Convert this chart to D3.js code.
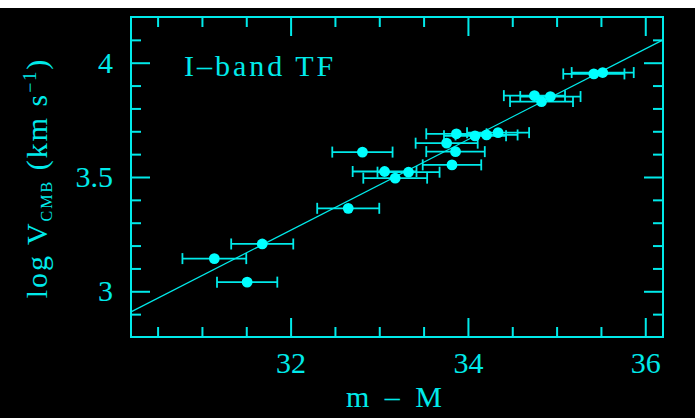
<!DOCTYPE html>
<html>
<head>
<meta charset="utf-8">
<script src="https://cdn.jsdelivr.net/npm/d3@7"></script>
<style>
  html, body { margin: 0; padding: 0; background: #000; }
  svg { display: block; }
</style>
</head>
<body>
<div class="chart"></div>
<script>
// Galaxy data: distance modulus, log velocity, half-width of error bar
var distMod = [31.14, 31.51, 31.68, 32.65, 32.81, 33.06, 33.18, 33.33, 33.76, 33.86,
               33.82, 33.87, 34.08, 34.21, 34.34, 34.75, 34.83, 34.93, 35.42, 35.52];
var logV = [3.143, 3.040, 3.207, 3.363, 3.609, 3.524, 3.495, 3.521, 3.648, 3.611,
            3.553, 3.689, 3.680, 3.684, 3.694, 3.856, 3.830, 3.852, 3.951, 3.957];
var distErr = [0.36, 0.34, 0.35, 0.35, 0.34, 0.36, 0.36, 0.35, 0.35, 0.33,
               0.33, 0.34, 0.35, 0.35, 0.35, 0.345, 0.355, 0.34, 0.345, 0.35];

// Fit line end points
var fitX = [30.2, 36.2];
var fitY = [2.91, 4.10];

// Ticks
var xMajor = [32, 34, 36];
var xMinor = [30.5, 31, 31.5, 32.5, 33, 33.5, 34.5, 35, 35.5];
var yMajor = [3, 3.5, 4];
var yMinor = [2.9, 3.1, 3.2, 3.3, 3.4, 3.6, 3.7, 3.8, 3.9, 4.1];

var svgWidth = 695;
var svgHeight = 418;
var margin = { top: 17, right: 32, bottom: 81, left: 131 };
var width = svgWidth - margin.left - margin.right;
var height = svgHeight - margin.top - margin.bottom;

var cyan = "#00eaea";
var font = "'Liberation Serif', 'Times New Roman', serif";

var svg = d3.select(".chart")
    .append("svg")
    .attr("width", svgWidth)
    .attr("height", svgHeight);

svg.append("rect")
    .attr("width", svgWidth)
    .attr("height", svgHeight)
    .attr("fill", "#000");

// white strip along the top of the screenshot
svg.append("rect")
    .attr("width", svgWidth)
    .attr("height", 8)
    .attr("fill", "#fff");

var chart = svg.append("g")
    .attr("transform", "translate(" + margin.left + "," + margin.top + ")");

var x = d3.scaleLinear().domain([30.2, 36.2]).range([0, width]);
var y = d3.scaleLinear().domain([2.8, 4.2]).range([height, 0]);

// axes: major ticks labelled on bottom/left, all ticks inward on every side
function styleAxis(g) {
    g.select(".domain").remove();
    g.selectAll("line").attr("stroke", cyan).attr("stroke-width", 2);
    g.selectAll("text").attr("fill", cyan);
    g.attr("font-family", font).attr("font-size", 30);
}

chart.append("g")
    .attr("transform", "translate(0," + height + ")")
    .call(d3.axisBottom(x).tickValues(xMajor).tickFormat(d3.format("d"))
        .tickSizeInner(-19).tickSizeOuter(0).tickPadding(15))
    .call(styleAxis);
chart.append("g")
    .attr("transform", "translate(0," + height + ")")
    .call(d3.axisBottom(x).tickValues(xMinor).tickFormat("")
        .tickSizeInner(-10).tickSizeOuter(0))
    .call(styleAxis);
chart.append("g")
    .call(d3.axisTop(x).tickValues(xMajor).tickFormat("")
        .tickSizeInner(-19).tickSizeOuter(0))
    .call(styleAxis);
chart.append("g")
    .call(d3.axisTop(x).tickValues(xMinor).tickFormat("")
        .tickSizeInner(-10).tickSizeOuter(0))
    .call(styleAxis);

chart.append("g")
    .call(d3.axisLeft(y).tickValues(yMajor).tickFormat(function (d) { return d; })
        .tickSizeInner(-19).tickSizeOuter(0).tickPadding(18))
    .call(styleAxis);
chart.append("g")
    .call(d3.axisLeft(y).tickValues(yMinor).tickFormat("")
        .tickSizeInner(-10).tickSizeOuter(0))
    .call(styleAxis);
chart.append("g")
    .attr("transform", "translate(" + width + ",0)")
    .call(d3.axisRight(y).tickValues(yMajor).tickFormat("")
        .tickSizeInner(-19).tickSizeOuter(0))
    .call(styleAxis);
chart.append("g")
    .attr("transform", "translate(" + width + ",0)")
    .call(d3.axisRight(y).tickValues(yMinor).tickFormat("")
        .tickSizeInner(-10).tickSizeOuter(0))
    .call(styleAxis);

// frame
chart.append("rect")
    .attr("width", width)
    .attr("height", height)
    .attr("fill", "none")
    .attr("stroke", cyan)
    .attr("stroke-width", 2);

// fit line
chart.append("line")
    .attr("x1", x(fitX[0]))
    .attr("y1", y(fitY[0]))
    .attr("x2", x(fitX[1]))
    .attr("y2", y(fitY[1]))
    .attr("stroke", cyan)
    .attr("stroke-width", 1.2);

// error bars
var bars = chart.append("g")
    .attr("stroke", cyan)
    .attr("stroke-width", 1.8)
    .selectAll("g")
    .data(distMod)
    .enter()
    .append("g");

bars.append("line")
    .attr("x1", function (d, i) { return x(d - distErr[i]); })
    .attr("x2", function (d, i) { return x(d + distErr[i]); })
    .attr("y1", function (d, i) { return y(logV[i]); })
    .attr("y2", function (d, i) { return y(logV[i]); });

bars.append("line")
    .attr("x1", function (d, i) { return x(d - distErr[i]); })
    .attr("x2", function (d, i) { return x(d - distErr[i]); })
    .attr("y1", function (d, i) { return y(logV[i]) - 5.5; })
    .attr("y2", function (d, i) { return y(logV[i]) + 5.5; });

bars.append("line")
    .attr("x1", function (d, i) { return x(d + distErr[i]); })
    .attr("x2", function (d, i) { return x(d + distErr[i]); })
    .attr("y1", function (d, i) { return y(logV[i]) - 5.5; })
    .attr("y2", function (d, i) { return y(logV[i]) + 5.5; });

// points
chart.selectAll("circle")
    .data(distMod)
    .enter()
    .append("circle")
    .attr("cx", function (d) { return x(d); })
    .attr("cy", function (d, i) { return y(logV[i]); })
    .attr("r", 5.4)
    .attr("fill", "#00ffff");

// in-plot label
chart.append("text")
    .attr("x", 53)
    .attr("y", 59)
    .attr("fill", cyan)
    .attr("font-family", font)
    .attr("font-size", 30)
    .attr("letter-spacing", 3)
    .text("I\u2013band TF");

// x-axis title
svg.append("text")
    .attr("x", 396)
    .attr("y", 407)
    .attr("text-anchor", "middle")
    .attr("fill", cyan)
    .attr("font-family", font)
    .attr("font-size", 30)
    .attr("letter-spacing", 4)
    .text("m \u2013 M");

// y-axis title with sub- and superscript
var yTitle = svg.append("text")
    .attr("transform", "translate(47,178) rotate(-90)")
    .attr("text-anchor", "middle")
    .attr("fill", cyan)
    .attr("font-family", font)
    .attr("font-size", 30)
    .attr("letter-spacing", 2);

yTitle.append("tspan").text("log V");
yTitle.append("tspan").attr("font-size", 16).attr("dy", 5).text("CMB");
yTitle.append("tspan").attr("dy", -5).text(" (km s");
yTitle.append("tspan").attr("font-size", 18).attr("dy", -11).text("\u22121");
yTitle.append("tspan").attr("dy", 11).text(")");
</script>
</body>
</html>
